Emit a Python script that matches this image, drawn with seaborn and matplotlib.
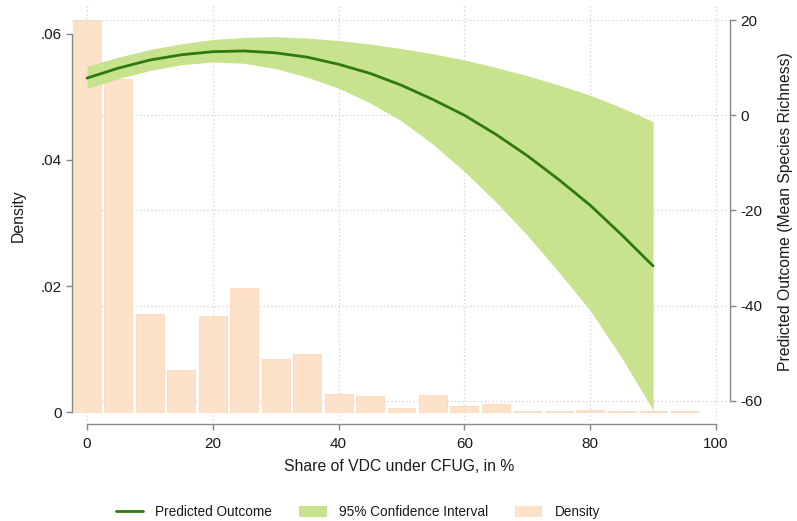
import numpy as np
import pandas as pd
import matplotlib
matplotlib.use("Agg")
import matplotlib.pyplot as plt
import seaborn as sns
from matplotlib.lines import Line2D
from matplotlib.patches import Patch
from matplotlib.transforms import blended_transform_factory

# ---------------- data ----------------
bin_centers = [0, 5, 10, 15, 20, 25, 30, 35, 40, 45, 50, 55, 60, 65, 70, 75, 80, 85, 90, 95]
density = [0.0622, 0.0529, 0.0156, 0.0066, 0.0153, 0.0197, 0.0084, 0.0092, 0.0029, 0.0026,
           0.0007, 0.0027, 0.0009, 0.0012, 0.00015, 0.0002, 0.0003, 0.0002, 0.0001, 0.0001]

x_pred = [0, 5, 10, 15, 20, 25, 30, 35, 40, 45, 50, 55, 60, 65, 70, 75, 80, 85, 90]
predicted = [7.8, 9.9, 11.6, 12.7, 13.35, 13.5, 13.1, 12.2, 10.7, 8.8, 6.3, 3.3, 0.0,
             -4.0, -8.5, -13.5, -18.9, -25.1, -31.65]
ci_lower = [5.6, 7.7, 9.4, 10.6, 11.2, 10.9, 9.8, 8.0, 5.7, 2.6, -1.2, -6.1, -11.8,
            -18.2, -25.2, -32.9, -41.0, -50.9, -61.9]
ci_upper = [10.3, 12.2, 13.8, 15.0, 15.9, 16.35, 16.5, 16.2, 15.7, 14.95, 14.0, 12.9, 11.6,
            10.05, 8.3, 6.35, 4.2, 1.6, -1.35]

x_ticks = [0, 20, 40, 60, 80, 100]
left_ticks = [0, 0.02, 0.04, 0.06]
left_ticklabels = ["0", ".02", ".04", ".06"]
right_ticks = [-60, -40, -20, 0, 20]

# ---------------- style ----------------
sns.set_style("white")
plt.rcParams["font.family"] = ["Liberation Sans", "DejaVu Sans"]
plt.rcParams["text.color"] = "#1a1a1a"
plt.rcParams["axes.labelcolor"] = "#1a1a1a"
plt.rcParams["xtick.color"] = "#888888"
plt.rcParams["ytick.color"] = "#888888"
plt.rcParams["xtick.labelcolor"] = "#1a1a1a"
plt.rcParams["ytick.labelcolor"] = "#1a1a1a"

BAR_COLOR = "#fde2c9"
BAR_EDGE = "#fcd6b3"
CI_COLOR = "#c8e38e"
LINE_COLOR = "#2f7a0e"
GRID_COLOR = "#d2d2d2"
SPINE_COLOR = "#8a8a8a"

W, H = 797, 521
fig = plt.figure(figsize=(W / 100, H / 100), dpi=100)
ax = fig.add_axes([72 / W, (H - 418) / H, (727 - 72) / W, (418 - 5) / H])
ax2 = ax.twinx()

# axes limits
ax.set_xlim(-2.385, 101.75)
ax.set_ylim(-0.00095, 0.0646)
ax2.set_ylim(-63.57, 23.15)

# histogram bars (density)
df_hist = pd.DataFrame({"share": bin_centers, "dens": density})
sns.histplot(data=df_hist, x="share", weights="dens", binwidth=5, binrange=(-2.5, 97.5),
             ax=ax, shrink=0.89, color=BAR_COLOR, edgecolor=BAR_EDGE, linewidth=0.5,
             alpha=1, stat="count", zorder=2)

# grid lines (behind bars)
ax.set_axisbelow(True)
for xt in x_ticks:
    ax.axvline(xt, color=GRID_COLOR, lw=0.9, ls=(0, (1, 2)), zorder=0.5, clip_on=False,
               ymin=-0.005, ymax=1.0)
tr = blended_transform_factory(ax.transAxes, ax2.transData)
for yt in right_ticks:
    ax.add_line(Line2D([0, 1], [yt, yt], transform=tr, color=GRID_COLOR, lw=0.9,
                       ls=(0, (1, 2)), zorder=0.5))

# CI and predicted line on the right axis
df_pred = pd.DataFrame({"share": x_pred, "pred": predicted, "lo": ci_lower, "hi": ci_upper})
ax2.fill_between(df_pred["share"], df_pred["lo"], df_pred["hi"], color=CI_COLOR,
                 linewidth=0, zorder=2)
sns.lineplot(data=df_pred, x="share", y="pred", ax=ax2, color=LINE_COLOR, lw=2.0,
             legend=False, zorder=3)

# spines
for a in (ax, ax2):
    a.spines["top"].set_visible(False)
ax.spines["right"].set_visible(False)
ax2.spines["left"].set_visible(False)
ax2.spines["bottom"].set_visible(False)
ax.spines["left"].set_bounds(0, 0.06)
ax.spines["left"].set_color(SPINE_COLOR)
ax.spines["bottom"].set_position(("outward", 4.3))
ax.spines["bottom"].set_bounds(0, 100)
ax.spines["bottom"].set_color(SPINE_COLOR)
ax2.spines["right"].set_position(("outward", 2.2))
ax2.spines["right"].set_bounds(-60, 20)
ax2.spines["right"].set_color(SPINE_COLOR)
for a in (ax, ax2):
    for s in a.spines.values():
        s.set_linewidth(1.0)

# ticks
ax.set_xticks(x_ticks)
ax.set_xticklabels([str(t) for t in x_ticks])
ax.set_yticks(left_ticks)
ax.set_yticklabels(left_ticklabels)
ax2.set_yticks(right_ticks)
ax2.set_yticklabels([str(t) for t in right_ticks])
ax.tick_params(axis="x", direction="out", length=4.5, width=1.0, labelsize=11, pad=5,
               bottom=True)
ax.tick_params(axis="y", direction="out", length=4.5, width=1.0, labelsize=11, pad=3,
               left=True)
ax2.tick_params(axis="y", direction="out", length=4.5, width=1.0, labelsize=11, pad=3,
                right=True)

# labels
ax.set_xlabel("Share of VDC under CFUG, in %", fontsize=11.3)
ax.xaxis.set_label_coords(0.5, -0.1)
ax.set_ylabel("Density", fontsize=11.3)
ax.yaxis.set_label_coords(-0.07, 0.49)
ax2.set_ylabel("Predicted Outcome (Mean Species Richness)", fontsize=11.3, rotation=90)
ax2.yaxis.set_label_coords(1.078, 0.50)

# legend
handles = [Line2D([0], [0], color=LINE_COLOR, lw=2.0),
           Patch(facecolor=CI_COLOR, edgecolor="none"),
           Patch(facecolor=BAR_COLOR, edgecolor="none")]
labels = ["Predicted Outcome", "95% Confidence Interval", "Density"]
fig.legend(handles, labels, loc="center", bbox_to_anchor=(358 / W, 1 - 512 / H),
           ncol=3, frameon=False, fontsize=9.8, handlelength=2.0, handleheight=0.9,
           columnspacing=2.0, handletextpad=0.9)

fig.savefig("out.png", dpi=100)
